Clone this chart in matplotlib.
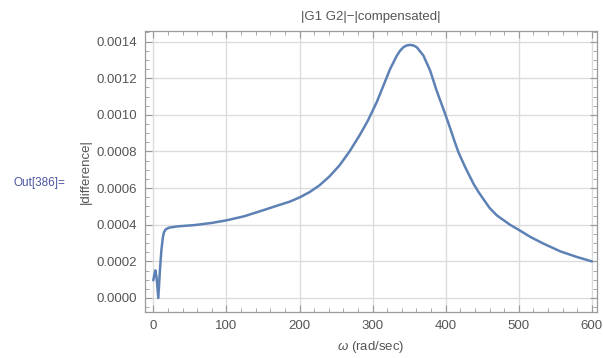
import matplotlib
matplotlib.use("Agg")
import matplotlib.pyplot as plt
from matplotlib.ticker import MultipleLocator, FormatStrFormatter

omega = [0, 1.5, 2.7, 4.5, 6.8, 9, 11, 13, 14.6, 17, 21.5, 33, 56, 80, 100, 124, 147,
         170, 186.6, 200, 213.7, 227.3, 241, 254.7, 268.4, 282, 293.6, 305.7, 314.8,
         324, 333, 337.5, 342, 346.5, 351.3, 356, 360.5, 369.5, 378.7, 387.8, 397, 405,
         412, 417.4, 426.6, 438, 445, 451.6, 460, 470, 488, 500, 516, 533.7, 556.6,
         579.4, 600]
difference = [0.0000965, 0.00013, 0.000151, 0.00011, 0.0, 0.00015, 0.00026, 0.00033,
              0.00036, 0.000375, 0.000384, 0.000391, 0.000398, 0.00041, 0.000424,
              0.000446, 0.000475, 0.000505, 0.000526, 0.000549, 0.000578, 0.000615,
              0.000664, 0.000724, 0.0008, 0.000887, 0.000969, 0.00107, 0.00116,
              0.001251, 0.001322, 0.00135, 0.001369, 0.001379, 0.001382, 0.001379,
              0.001369, 0.001324, 0.001242, 0.00113, 0.00103, 0.00094, 0.000857,
              0.000796, 0.000715, 0.000624, 0.000578, 0.00054, 0.000492, 0.000451,
              0.0004, 0.000372, 0.000333, 0.000297, 0.000255, 0.000224, 0.0002]

title = "|G1 G2|\u2212|compensated|"
xlabel = "$\\omega$ (rad/sec)"
ylabel = "|difference|"
out_label = "Out[386]="

plt.rcParams['font.family'] = ['Liberation Sans', 'DejaVu Sans']
plt.rcParams['mathtext.fontset'] = 'custom'
plt.rcParams['mathtext.it'] = 'Liberation Sans:italic'

fig = plt.figure(figsize=(6.03, 3.58), dpi=100)
ax = fig.add_axes([145/603, 1-312/358, (597-145)/603, (312-31)/358])

ax.plot(omega, difference, color='#5E81B5', lw=1.8, solid_joinstyle='round',
        solid_capstyle='round')
ax.set_xlim(-11.4, 607)
ax.set_ylim(-0.0000765, 0.001458)

ax.xaxis.set_major_locator(MultipleLocator(100))
ax.xaxis.set_minor_locator(MultipleLocator(20))
ax.yaxis.set_major_locator(MultipleLocator(0.0002))
ax.yaxis.set_minor_locator(MultipleLocator(0.00005))
ax.yaxis.set_major_formatter(FormatStrFormatter('%.4f'))

ax.grid(True, which='major', color='#dcdcdc', lw=1)
ax.set_axisbelow(True)
for s in ax.spines.values():
    s.set_color('#9a9a9a')
    s.set_linewidth(0.9)
ax.tick_params(which='both', direction='in', top=True, right=True, color='#9a9a9a',
               labelcolor='#555555', labelsize=9.5)
ax.tick_params(which='major', length=5, width=0.8, pad=6)
ax.tick_params(which='minor', length=3, width=0.6)

ax.set_title(title, color='#555555', fontsize=9.5, pad=8)
ax.set_xlabel(xlabel, color='#555555', fontsize=9.5, labelpad=5)
fig.text(86/603, 1-172/358, ylabel, rotation=90, color='#555555', fontsize=9.5,
         ha='center', va='center')
fig.text(13/603, 1-183/358, out_label, color='#4a55a0', fontsize=8.5,
         ha='left', va='center')

fig.savefig('out.png', dpi=100)
